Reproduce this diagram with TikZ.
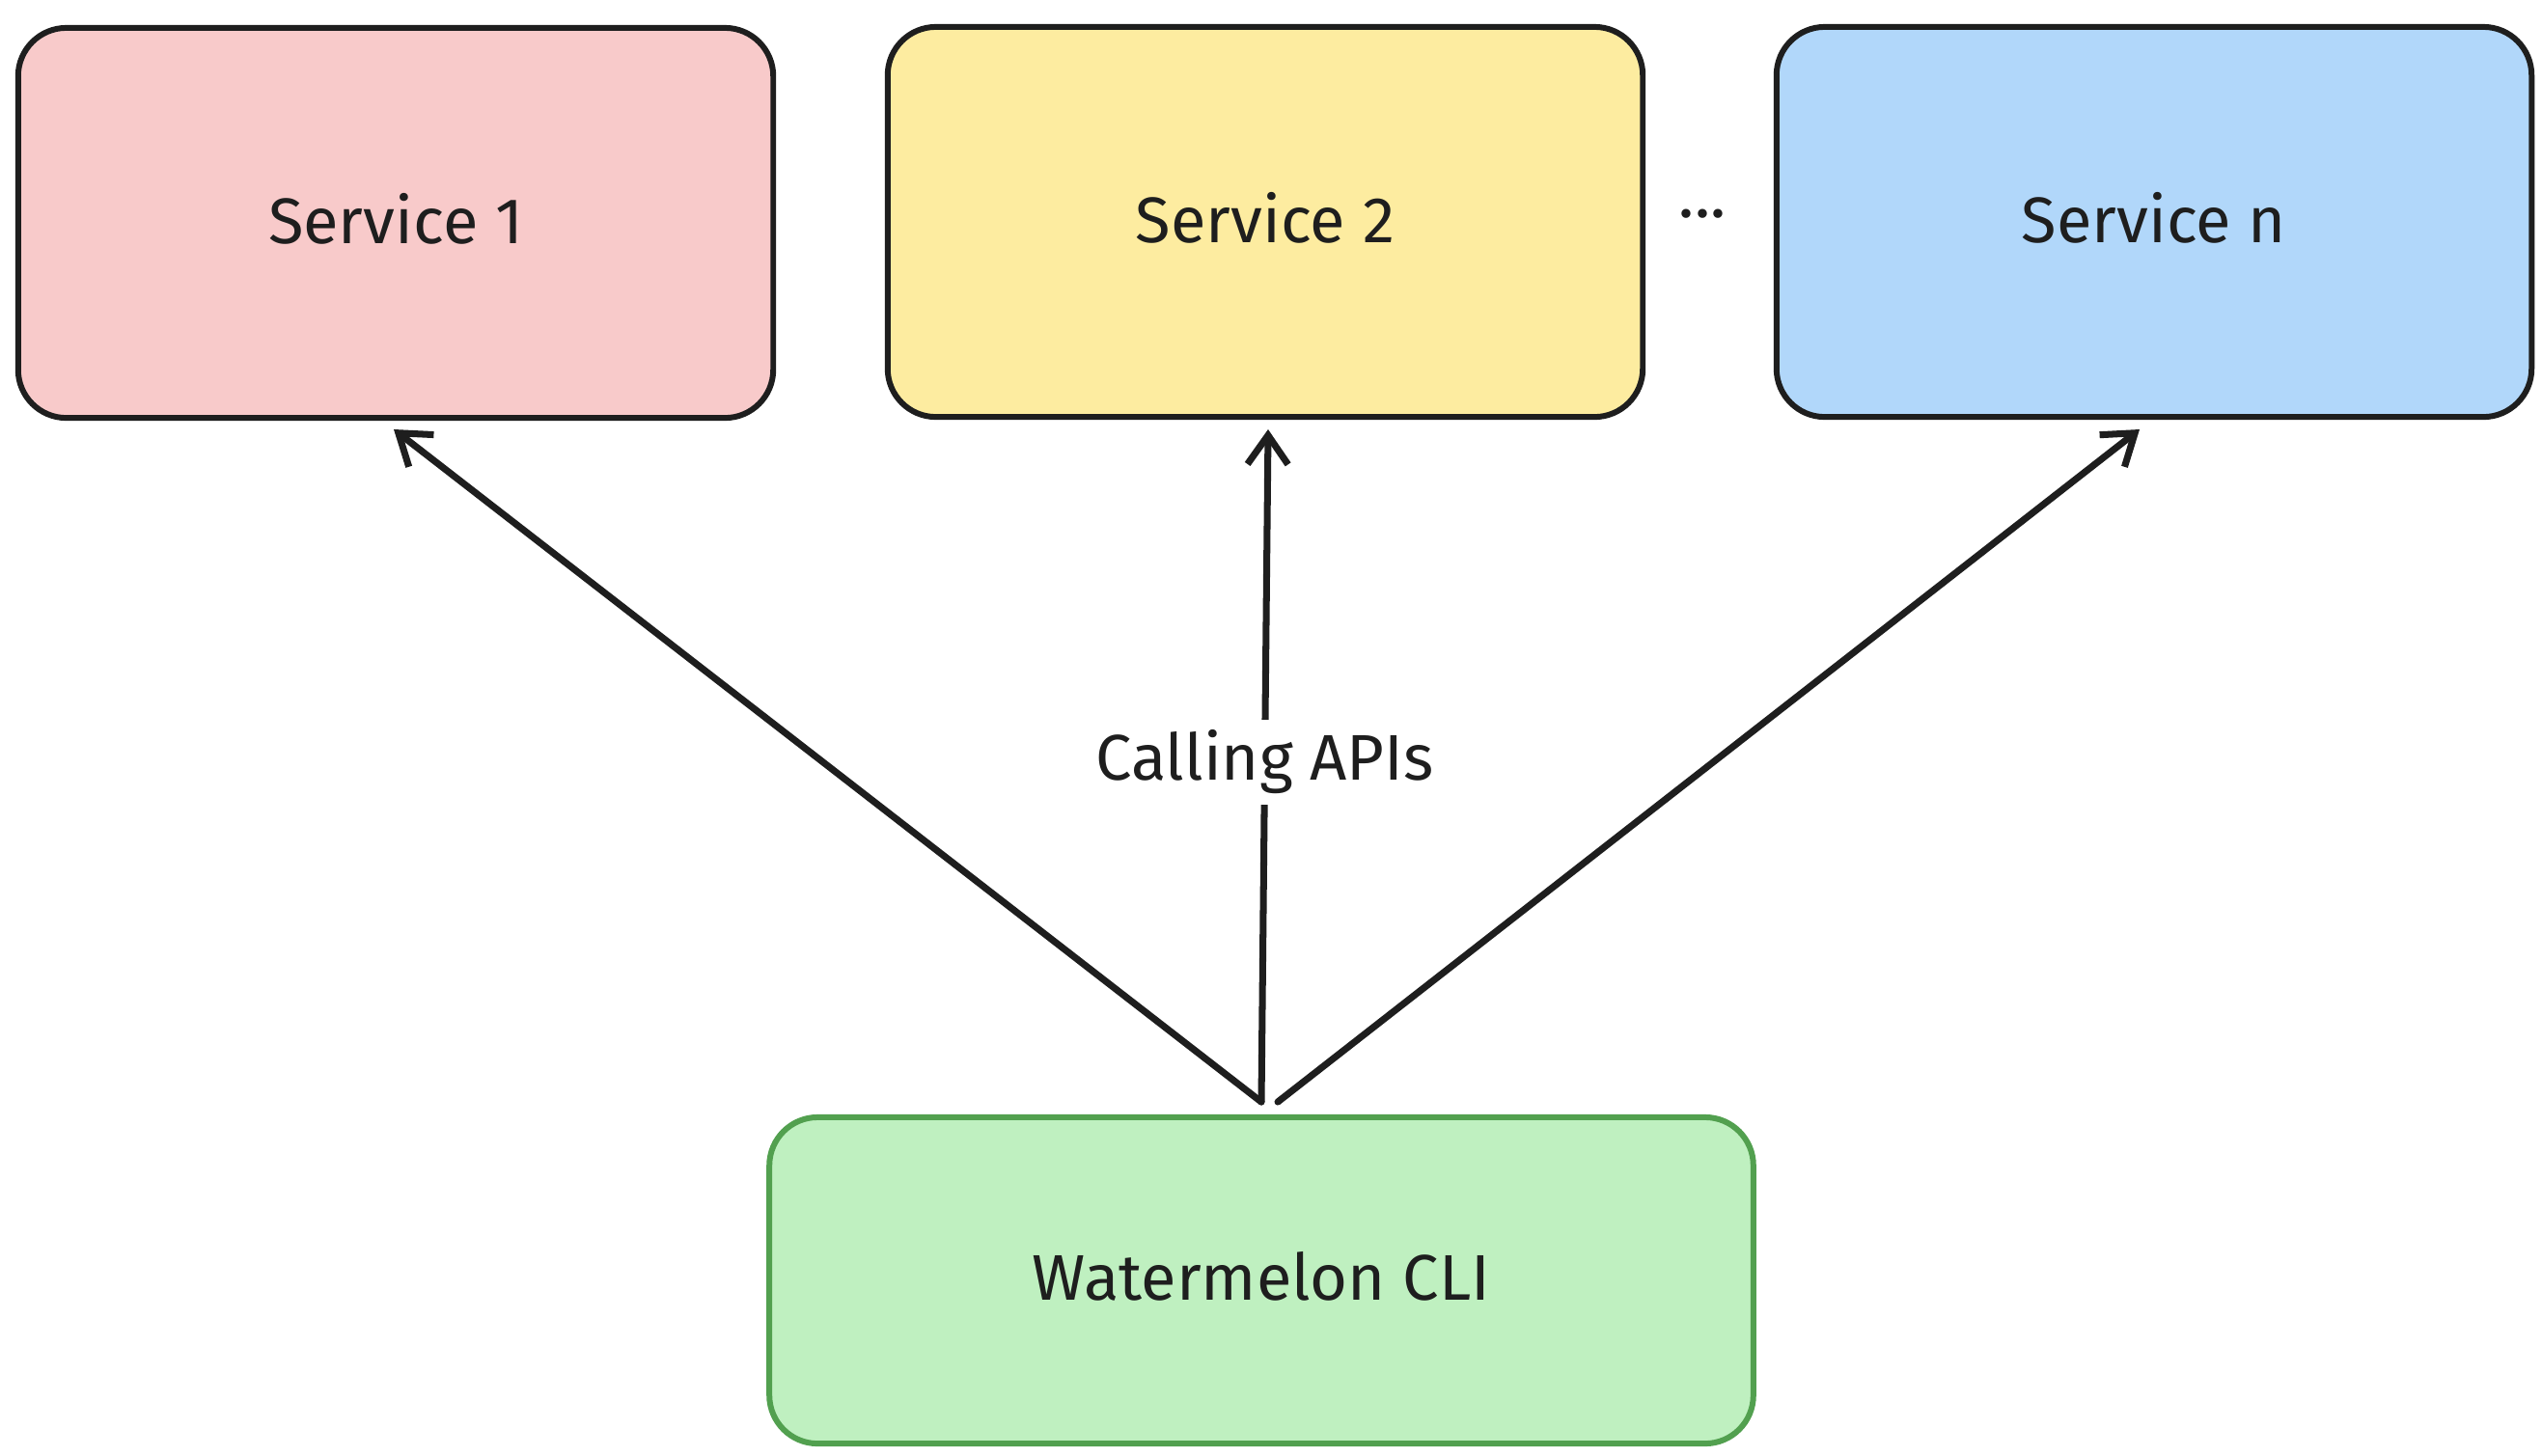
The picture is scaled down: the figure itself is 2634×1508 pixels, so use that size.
\documentclass[tikz,border=0pt]{standalone}
\usepackage{fontspec}
\setmainfont{Fira Sans}
\usetikzlibrary{arrows.meta}
\definecolor{ink}{HTML}{1E1E1E}
\definecolor{pinkfill}{HTML}{F8CACA}
\definecolor{yellowfill}{HTML}{FDECA0}
\definecolor{bluefill}{HTML}{B1D7FA}
\definecolor{greenfill}{HTML}{BFF0C0}
\definecolor{greenline}{HTML}{52A04F}
\tikzset{
  svcbox/.style={draw=ink, line width=1.7pt, rounded corners=0.5cm,
    minimum width=7.82cm, minimum height=4.04cm, inner sep=0pt,
    font=\fontsize{19}{23}\selectfont, text=ink, text depth=0.45ex},
  clibox/.style={svcbox, draw=greenline, minimum width=10.19cm, minimum height=3.38cm},
  callarrow/.style={draw=ink, line width=2pt, line cap=round,
    -{Straight Barb[length=0.3cm, width=0.42cm, line width=2pt]}},
  lbl/.style={font=\fontsize{19}{23}\selectfont, text=ink, fill=white, inner sep=3pt}
}
\begin{document}
\begin{tikzpicture}[x=0.01cm,y=-0.01cm]
\useasboundingbox (0,0) rectangle (2634,1508);
\fill[white] (0,0) rectangle (2634,1508);
\node[svcbox, fill=pinkfill] (s1) at (410,231) {Service 1};
\node[svcbox, fill=yellowfill] (s2) at (1311,230) {Service 2};
\node[svcbox, fill=bluefill] (sn) at (2232,230) {Service n};
\node[clibox, fill=greenfill] (cli) at (1307,1327) {Watermelon CLI};
\node[font=\fontsize{19}{23}\selectfont, text=ink] (dots) at (1764,222) {...};
\coordinate (c0) at (1307,1142);
\coordinate (c1) at (1324,1142);
\coordinate (t1) at (408,445);
\coordinate (t2) at (1314,445);
\coordinate (tn) at (2217,445);
\draw[callarrow] (c0) -- (t1);
\draw[callarrow] (c0) -- node[lbl, pos=0.505] (lab) {Calling APIs} (t2);
\draw[callarrow] (c1) -- (tn);
\end{tikzpicture}
\end{document}
